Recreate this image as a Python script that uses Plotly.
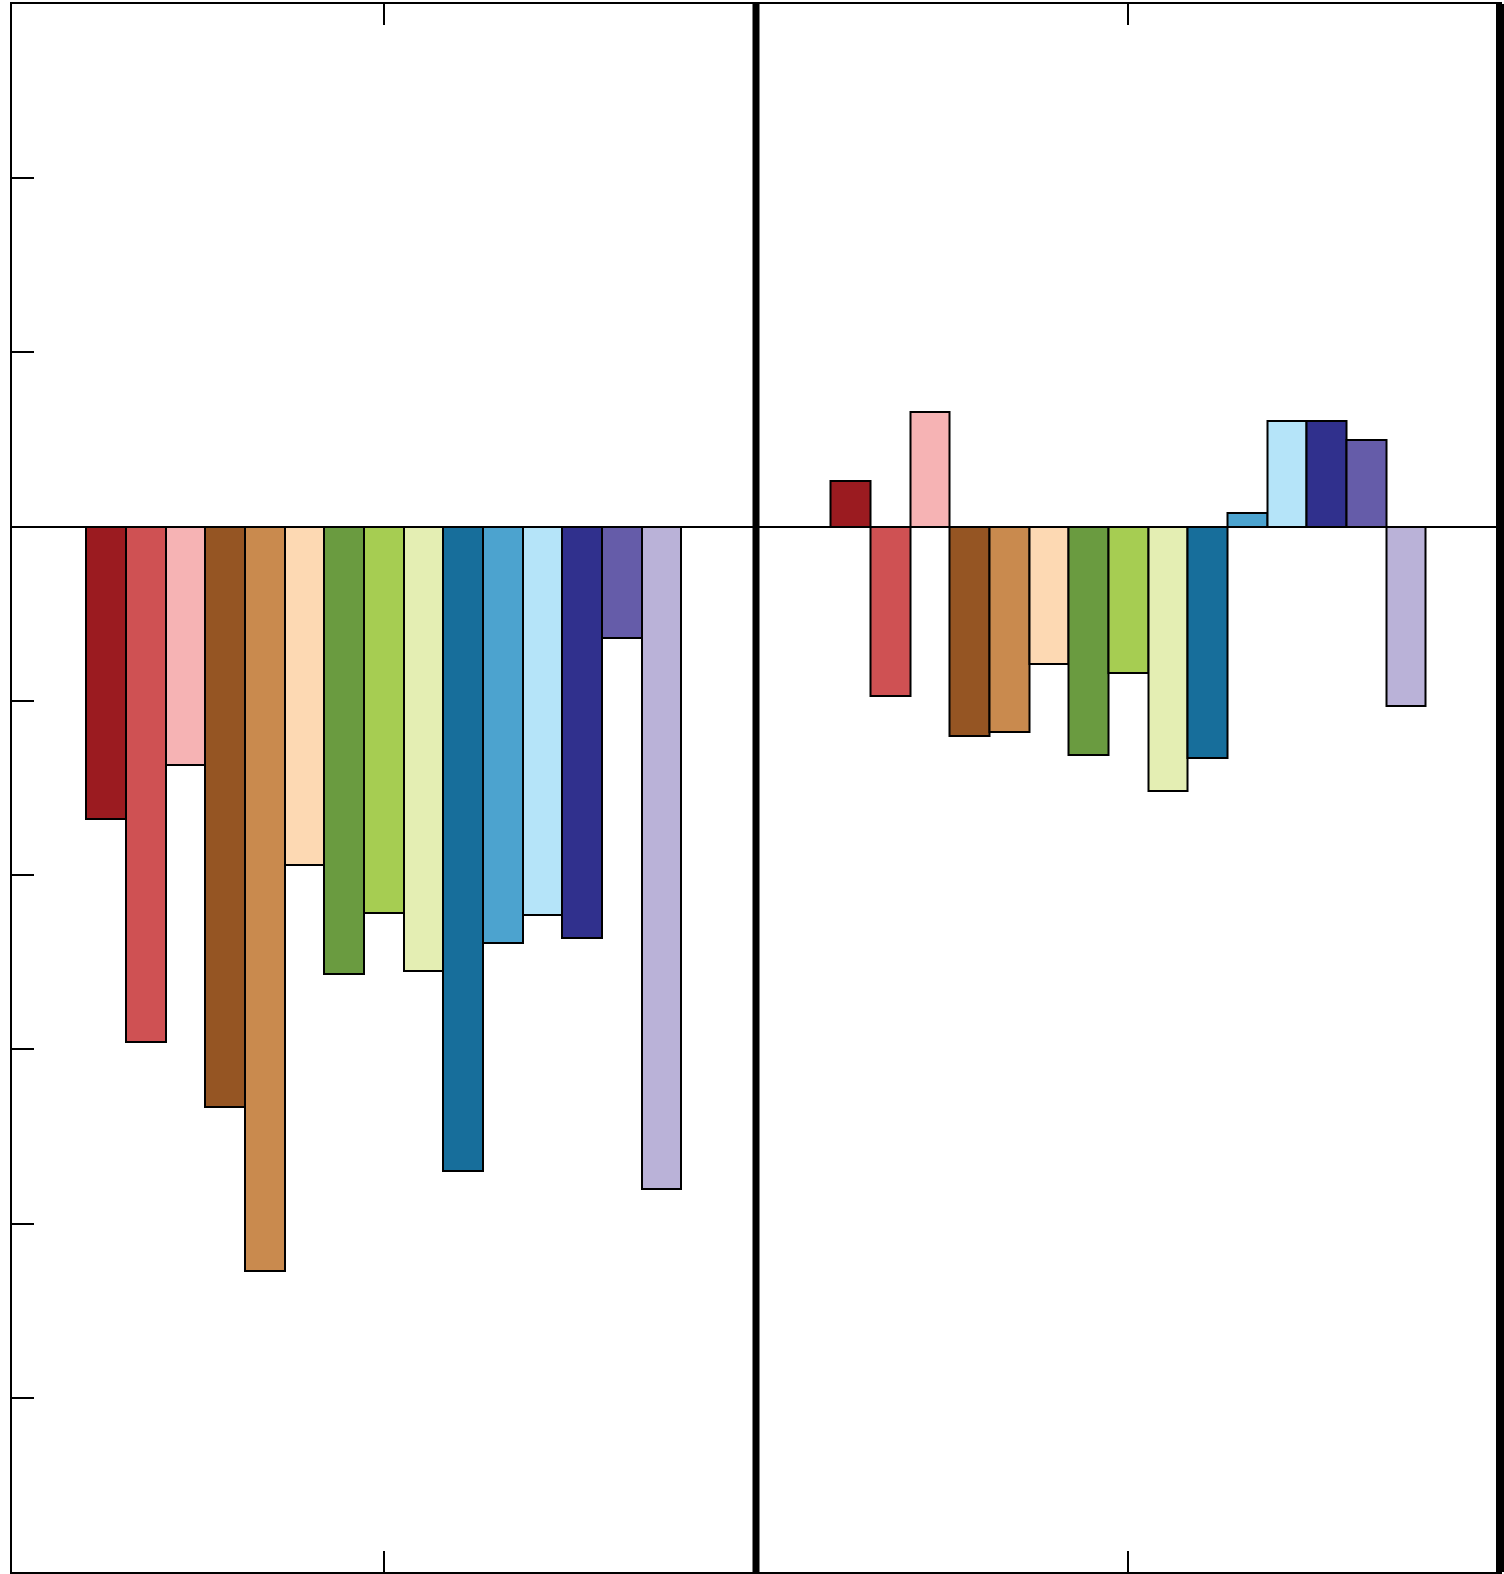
import plotly.graph_objects as go

positions = list(range(1, 16))
colors = ["#9B1B20", "#CF5153", "#F6B3B4", "#955523", "#C98A4E", "#FDD9B3",
          "#6A9B40", "#A6CD52", "#E4EEB3", "#176E9B", "#4CA3CF", "#B5E4F9",
          "#30308D", "#655CA9", "#BAB2D8"]
left_values = [-1.68, -2.96, -1.37, -3.33, -4.27, -1.94, -2.57, -2.22, -2.55,
               -3.70, -2.39, -2.23, -2.36, -0.64, -3.80]
right_values = [0.26, -0.97, 0.66, -1.20, -1.18, -0.79, -1.31, -0.84, -1.52,
                -1.33, 0.08, 0.605, 0.605, 0.50, -1.03]
y_ticks = [-5, -4, -3, -2, -1, 0, 1, 2]
x_ticks = [8]

fig = go.Figure()
fig.add_trace(go.Bar(x=positions, y=left_values, width=1,
                     marker=dict(color=colors, line=dict(color="black", width=2)),
                     xaxis="x", yaxis="y", showlegend=False))
fig.add_trace(go.Bar(x=positions, y=right_values, width=1,
                     marker=dict(color=colors, line=dict(color="black", width=2)),
                     xaxis="x2", yaxis="y2", showlegend=False))

L_END = 0.49966
R_START = 0.50034
xcommon = dict(range=[-1.37, 17.37], tickvals=x_ticks, showticklabels=False,
               ticks="inside", ticklen=21, tickwidth=2, tickcolor="black",
               showline=True, linecolor="black", linewidth=2, mirror="ticks",
               showgrid=False, zeroline=False)
fig.update_layout(
    width=1504, height=1574,
    margin=dict(l=12, r=4, t=4, b=2),
    paper_bgcolor="white", plot_bgcolor="white",
    bargap=0,
    xaxis=dict(domain=[0, L_END], **xcommon),
    xaxis2=dict(domain=[R_START, 1], anchor="y2", **xcommon),
    yaxis=dict(range=[-6, 3], tickvals=y_ticks, showticklabels=False,
               ticks="inside", ticklen=22, tickwidth=2, tickcolor="black",
               showline=True, linecolor="black", linewidth=2, mirror=True,
               showgrid=False, zeroline=True, zerolinecolor="black", zerolinewidth=2),
    yaxis2=dict(range=[-6, 3], anchor="x2", showticklabels=False, ticks="",
                showline=True, linecolor="black", linewidth=2, mirror=True,
                showgrid=False, zeroline=True, zerolinecolor="black", zerolinewidth=2),
)
fig.add_shape(type="line", xref="paper", yref="paper",
              x0=(L_END + R_START) / 2, x1=(L_END + R_START) / 2, y0=0, y1=1,
              line=dict(color="black", width=7))
fig.add_shape(type="line", xref="paper", yref="paper",
              x0=1, x1=1, y0=0, y1=1,
              line=dict(color="black", width=8))
fig.write_html("out.html", config={"displayModeBar": False},
               post_script="document.body.style.margin='0';document.body.style.overflow='hidden';")
